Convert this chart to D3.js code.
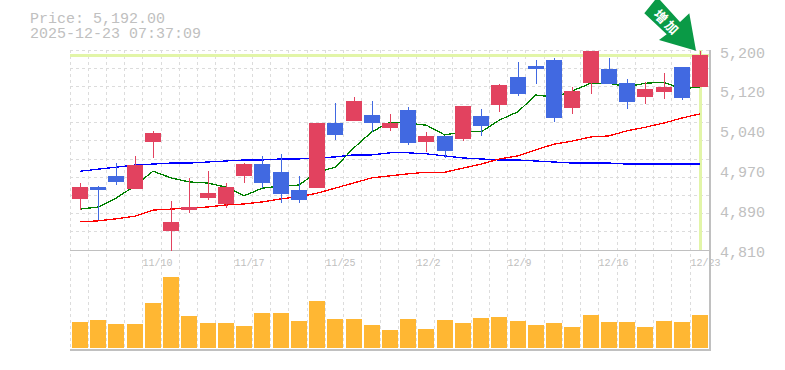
<!DOCTYPE html>
<meta charset="utf-8">
<style>
    body { margin: 0; background: #fff; }
    text { font-family: "Liberation Mono", monospace; fill: #c0c0c0; }
    .grid { stroke: #dcdcdc; stroke-dasharray: 3,3; shape-rendering: crispEdges; }
    .frame { stroke: #c0c0c0; shape-rendering: crispEdges; }
    .ma { fill: none; stroke-width: 1.3; shape-rendering: crispEdges; }
</style>
<svg width="785" height="370"></svg>
<script src="https://d3js.org/d3.v7.min.js"></script>
<script>

    var open  = [4910,4933,4955,4929,5021,4847,4888,4912,4900,4955,4978,4962,4927,4931,5058,5062,5074,5049,5084,5021,5033,5027,5072,5093,5148,5170,5181,5088,5136,5164,5136,5109,5119,5168,5129];
    var high  = [4941,4935,4980,4994,5043,4906,4951,4964,4941,4980,4994,4998,4955,5058,5097,5109,5101,5076,5090,5041,5033,5092,5086,5135,5178,5181,5185,5129,5200,5185,5144,5138,5156,5168,5200];
    var low   = [4888,4869,4937,4929,4990,4809,4882,4908,4892,4941,4931,4902,4902,4931,5025,5062,5041,5043,5015,5002,4990,5023,5033,5080,5111,5135,5060,5076,5115,5135,5086,5095,5105,5103,5129];
    var close = [4933,4927,4943,4976,5039,4865,4894,4921,4933,4978,4941,4919,4908,5058,5035,5101,5058,5058,5019,5033,5004,5092,5052,5133,5115,5164,5068,5121,5200,5135,5099,5125,5129,5107,5192];

    var maShort = [4890,4894,4912,4935,4964,4951,4943,4941,4933,4916,4931,4935,4937,4962,4972,5009,5041,5060,5058,5054,5035,5041,5041,5064,5080,5113,5109,5121,5136,5136,5129,5136,5138,5125,5129];
    var maMid   = [4865,4867,4871,4876,4888,4890,4892,4894,4898,4900,4904,4910,4914,4921,4931,4941,4951,4955,4959,4962,4962,4970,4978,4988,4994,5006,5017,5023,5031,5033,5043,5050,5058,5068,5076];
    var maLong  = [4964,4968,4972,4976,4978,4980,4980,4982,4984,4986,4986,4988,4988,4990,4992,4996,4996,5000,5000,4998,4994,4990,4988,4986,4986,4984,4982,4980,4980,4980,4978,4978,4978,4978,4978];

    var volume = [26,28,24,24,45,71,32,25,25,22,35,35,27,47,29,29,23,18,29,19,28,25,30,31,27,23,25,21,33,26,26,21,27,26,33];

    var priceTicks  = [5200,5122,5044,4966,4888,4810];
    var priceLabels = ["5,200","5,120","5,040","4,970","4,890","4,810"];
    var dateIndex   = [4,9,14,19,24,29,34];
    var dateLabels  = ["11/10","11/17","11/25","12/2","12/9","12/16","12/23"];
    var lastPrice = 5192;
    var lastIndex = 34;

    var svg = d3.select("svg");

    var x = d3.scalePoint().domain(d3.range(open.length)).range([80, 700]);
    var y = d3.scaleLinear().domain([4810, 5201]).range([250, 50]);
    var v = d3.scaleLinear().domain([0, 71]).range([348, 277]);

    var step = x.step();
    function gridX(i) { return Math.floor(80 + step * i - 10) + 0.5; }

    // dashed grid
    var grid = svg.append("g");
    grid.selectAll(".vgrid")
        .data(d3.range(open.length))
        .enter().append("line")
        .attr("class", "grid vgrid")
        .attr("x1", gridX).attr("x2", gridX)
        .attr("y1", 50).attr("y2", 350);
    grid.selectAll(".hgrid")
        .data(d3.range(12))
        .enter().append("line")
        .attr("class", "grid hgrid")
        .attr("x1", 70).attr("x2", 710)
        .attr("y1", function(d) { return Math.floor(250 - d * 200 / 11) + 0.5; })
        .attr("y2", function(d) { return Math.floor(250 - d * 200 / 11) + 0.5; });

    // current price cross
    svg.append("rect")
        .attr("x", 70).attr("width", 640)
        .attr("y", Math.round(y(lastPrice)) - 1).attr("height", 3)
        .attr("fill", "#e2f5a8");
    svg.append("rect")
        .attr("x", x(lastIndex) - 1).attr("width", 3)
        .attr("y", 50).attr("height", 200)
        .attr("fill", "#e2f5a8");

    // frame
    svg.append("line").attr("class", "frame")
        .attr("x1", 70).attr("x2", 710).attr("y1", 250.5).attr("y2", 250.5);
    svg.append("line").attr("class", "frame")
        .attr("x1", 70).attr("x2", 710).attr("y1", 350).attr("y2", 350).attr("stroke-width", 2);
    svg.append("line").attr("class", "frame")
        .attr("x1", 710).attr("x2", 710).attr("y1", 50).attr("y2", 351).attr("stroke-width", 2);

    // moving averages
    var line = d3.line()
        .x(function(d, i) { return x(i); })
        .y(function(d) { return y(d); });

    [[maLong, "#0000ff"], [maMid, "#ff0000"], [maShort, "#008000"]].forEach(function(s) {
        svg.append("path")
            .datum(s[0])
            .attr("class", "ma")
            .attr("stroke", s[1])
            .attr("d", line);
    });

    // candles
    var red = "#e2425f", blue = "#4169e1";

    var candles = svg.append("g")
        .attr("shape-rendering", "crispEdges")
        .selectAll("g")
        .data(d3.range(open.length))
        .enter().append("g")
        .attr("fill", function(i) { return close[i] >= open[i] ? red : blue; });

    candles.append("rect")
        .attr("x", function(i) { return Math.round(x(i)); })
        .attr("width", 1)
        .attr("y", function(i) { return Math.round(y(high[i])); })
        .attr("height", function(i) { return Math.round(y(low[i])) - Math.round(y(high[i])); });

    candles.append("rect")
        .attr("x", function(i) { return Math.round(x(i) - 8); })
        .attr("width", 16)
        .attr("y", function(i) { return Math.round(y(Math.max(open[i], close[i]))); })
        .attr("height", function(i) { return Math.round(y(Math.min(open[i], close[i]))) - Math.round(y(Math.max(open[i], close[i]))); });

    // volume
    svg.append("g")
        .attr("shape-rendering", "crispEdges")
        .selectAll("rect")
        .data(volume)
        .enter().append("rect")
        .attr("x", function(d, i) { return Math.round(x(i) - 8); })
        .attr("width", 16)
        .attr("y", function(d) { return v(d); })
        .attr("height", function(d) { return v(0) - v(d); })
        .attr("fill", "#ffb733");

    // labels
    svg.append("g")
        .selectAll("text")
        .data(priceTicks)
        .enter().append("text")
        .attr("x", 720)
        .attr("y", function(d) { return y(d) + 7; })
        .attr("font-size", 15)
        .text(function(d, i) { return priceLabels[i]; });

    svg.append("g")
        .selectAll("text")
        .data(dateIndex)
        .enter().append("text")
        .attr("x", function(d) { return gridX(d); })
        .attr("y", 266)
        .attr("font-size", 10)
        .text(function(d, i) { return dateLabels[i]; });

    svg.append("text").attr("x", 30).attr("y", 23).attr("font-size", 15).text("Price: 5,192.00");
    svg.append("text").attr("x", 30).attr("y", 38).attr("font-size", 15).text("2025-12-23 07:37:09");

    // arrow badge
    svg.append("path")
        .attr("d", "M655,0L644.3,13.3L666.7,34.3L659,40L696,50.7L689.3,13.3L680,22L660,0Z")
        .attr("fill", "#0a9a46");
    svg.append("text")
        .attr("transform", "translate(667,23)rotate(45)")
        .attr("text-anchor", "middle")
        .attr("dy", "0.36em")
        .attr("font-size", 13)
        .attr("font-weight", "bold")
        .attr("letter-spacing", 2.5)
        .style("font-family", "'Noto Sans CJK JP'")
        .style("fill", "#fff")
        .text("増加");

</script>
